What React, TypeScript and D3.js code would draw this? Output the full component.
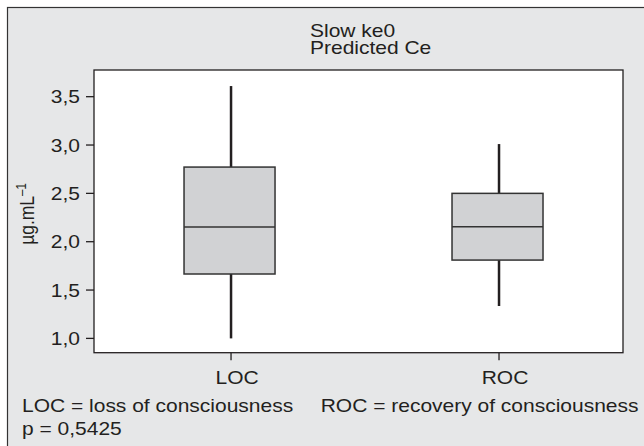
import * as d3 from "d3"

// Box plot summary values (µg/mL)
const categories = ["LOC", "ROC"]
const whiskerLow = [1.0, 1.335]
const q1 = [1.666, 1.81]
const median = [2.152, 2.155]
const q3 = [2.772, 2.5]
const whiskerHigh = [3.61, 3.01]

const yTicks = [1.0, 1.5, 2.0, 2.5, 3.0, 3.5]
const yTickLabels = ["1,0", "1,5", "2,0", "2,5", "3,0", "3,5"]

const titleLines = ["Slow ke0", "Predicted Ce"]
const footnotes = ["LOC = loss of consciousness", "ROC = recovery of consciousness", "p = 0,5425"]

const W = 644
const H = 446
const plot = { left: 94, right: 623, top: 70, bottom: 352.7 }
const font = "'Liberation Sans', Arial, Helvetica, sans-serif"
const fs = 17.5
const sx = 1.2 // the original is stretched sideways

// text helper: scaled horizontally like the source image
function T({ x, y, anchor = "start", children }: any) {
  return (
    <text
      transform={`translate(${x},${y}) scale(${sx},1)`}
      textAnchor={anchor}
      fontFamily={font}
      fontSize={fs}
      fill="#231f20"
    >
      {children}
    </text>
  )
}

export default function App() {
  const x = d3
    .scalePoint()
    .domain(categories)
    .range([plot.left, plot.right])
    .padding(0.487)
    .align(0.525)

  const y = d3.scaleLinear().domain([0.852, 3.776]).range([plot.bottom, plot.top])

  const boxW = 91

  return (
    <svg
      width={W}
      height={H}
      style={{ position: "absolute", left: 0, top: 0, background: "#ffffff" }}
    >
      {/* outer panel */}
      <rect x={7.5} y={7.5} width={W + 20} height={H + 20} fill="#e6e7e8" stroke="#333" strokeWidth={1.2} />

      {/* title */}
      <T x={310} y={36.5}>{titleLines[0]}</T>
      <T x={310} y={54}>{titleLines[1]}</T>

      {/* plot area */}
      <rect
        x={plot.left}
        y={plot.top}
        width={plot.right - plot.left}
        height={plot.bottom - plot.top}
        fill="#ffffff"
        stroke="#231f20"
        strokeWidth={1.3}
      />

      {/* y axis ticks */}
      {yTicks.map((t, i) => (
        <g key={t}>
          <line x1={86} x2={plot.left} y1={y(t)} y2={y(t)} stroke="#231f20" strokeWidth={1.3} />
          <T x={80} y={y(t) + 6.5} anchor="end">{yTickLabels[i]}</T>
        </g>
      ))}

      {/* y axis label */}
      <text
        transform={`translate(34,214) scale(${sx},1) rotate(-90)`}
        textAnchor="middle"
        fontFamily={font}
        fontSize={fs}
        fill="#231f20"
      >
        µg.mL
        <tspan fontSize={11.5} dy={-7}>–1</tspan>
      </text>

      {/* x axis ticks */}
      {categories.map((c) => (
        <g key={c}>
          <line
            x1={x(c)!}
            x2={x(c)!}
            y1={plot.bottom}
            y2={plot.bottom + 7.5}
            stroke="#231f20"
            strokeWidth={1.3}
          />
          <T x={x(c)! + 6} y={384} anchor="middle">{c}</T>
        </g>
      ))}

      {/* boxes */}
      {categories.map((c, i) => {
        const cx = x(c)!
        return (
          <g key={c}>
            <line x1={cx} x2={cx} y1={y(whiskerHigh[i])} y2={y(q3[i])} stroke="#231f20" strokeWidth={2.5} />
            <line x1={cx} x2={cx} y1={y(q1[i])} y2={y(whiskerLow[i])} stroke="#231f20" strokeWidth={2.5} />
            <rect
              x={cx - boxW / 2 - 1.5}
              y={y(q3[i])}
              width={boxW}
              height={y(q1[i]) - y(q3[i])}
              fill="#d1d2d4"
              stroke="#333"
              strokeWidth={1.5}
            />
            <line
              x1={cx - boxW / 2 - 1.5}
              x2={cx + boxW / 2 - 1.5}
              y1={y(median[i])}
              y2={y(median[i])}
              stroke="#333"
              strokeWidth={1.5}
            />
          </g>
        )
      })}

      {/* footnotes */}
      <T x={22} y={411.7}>{footnotes[0]}</T>
      <T x={320.7} y={411.7}>{footnotes[1]}</T>
      <T x={22} y={435}>{footnotes[2]}</T>
    </svg>
  )
}
